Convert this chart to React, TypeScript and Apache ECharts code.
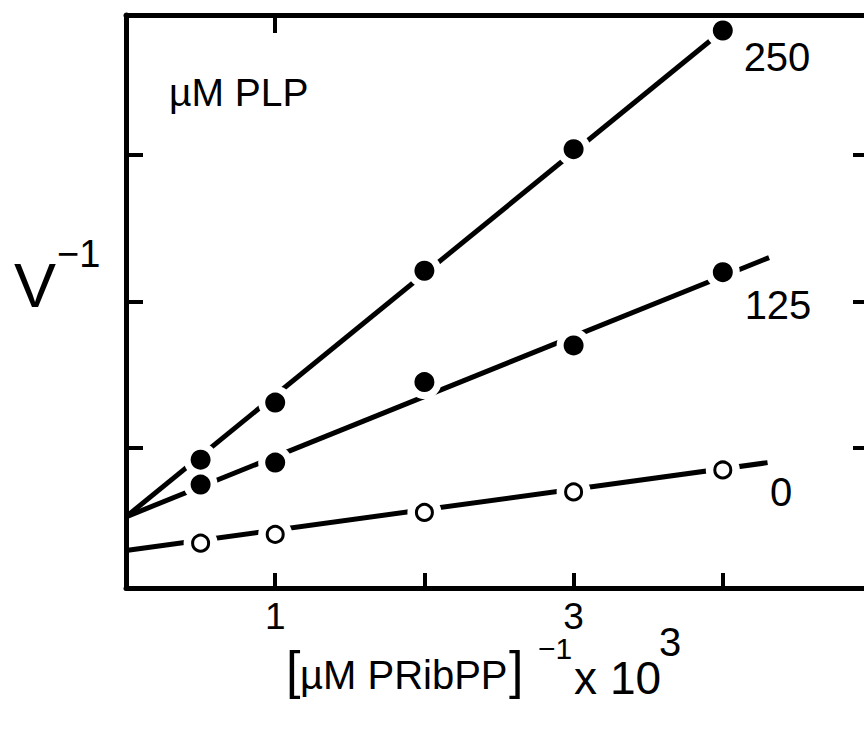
import React, { useEffect, useRef } from 'react';
import * as echarts from 'echarts';

// measured points: x = [µM PRibPP]^-1 x 10^3, y = V^-1 (tick units)
const xPoints = [0.5, 1, 2, 3, 4];
const plp250 = [0.92, 1.31, 2.21, 3.04, 3.85];
const plp125 = [0.75, 0.9, 1.45, 1.7, 2.2];
const plp0 = [0.35, 0.41, 0.56, 0.7, 0.85];

// fitted lines (start, end)
const fit250 = [[0, 0.53], [4, 3.85]];
const fit125 = [[0, 0.53], [4.31, 2.3]];
const fit0 = [[0, 0.3], [4.3, 0.9]];

const xTickValues = [1, 2, 3, 4];
const xLabelValues = [1, 3];
const topTickValues = [1];
const yTickValues = [1, 2, 3];
const seriesNames = ['250', '125', '0'];

const FONT = '"Liberation Sans", Arial, sans-serif';

export default function App() {
  const ref = useRef<HTMLDivElement>(null);
  useEffect(() => {
    document.body.style.margin = '0';
    document.body.style.overflow = 'hidden';
    const chart = echarts.init(ref.current!, null, { renderer: 'svg' });
    const pts = (ys: number[]) => xPoints.map((x, i) => [x, ys[i]]);
    const axisLine = { show: true, onZero: false, lineStyle: { color: '#000', width: 5 } };
    const tick = (vals: number[], len: number) => ({
      show: true,
      inside: true,
      length: len,
      customValues: vals,
      lineStyle: { color: '#000', width: 4 },
    });
    const xBase = { type: 'value', min: 0, max: 5, splitLine: { show: false }, z: 10 };
    const yBase = { type: 'value', min: 0.044, max: 3.956, splitLine: { show: false }, z: 10, axisLabel: { show: false } };
    const lineSeries = (data: number[][]) => ({
      type: 'line',
      data,
      symbol: 'none',
      z: 2,
      lineStyle: { color: '#000', width: 5 },
      silent: true,
    });
    const halo = (ys: number[]) => ({
      type: 'scatter',
      data: pts(ys),
      symbolSize: 34,
      itemStyle: { color: '#fff', opacity: 1 },
      z: 3,
      silent: true,
    });
    const filled = (ys: number[], name: string) => ({
      type: 'scatter',
      name,
      data: pts(ys),
      symbolSize: 20,
      itemStyle: { color: '#000', opacity: 1 },
      z: 4,
    });
    const open = (ys: number[], name: string) => ({
      type: 'scatter',
      name,
      data: pts(ys),
      symbolSize: 16,
      itemStyle: { color: '#fff', borderColor: '#000', borderWidth: 3, opacity: 1 },
      z: 4,
    });
    const txt = (text: string, x: number, y: number, fontSize: number, align = 'left') => ({
      type: 'text',
      x,
      y,
      z: 20,
      style: { text, fontSize, fontFamily: FONT, fill: '#000', align, verticalAlign: 'middle' },
    });

    chart.setOption({
      animation: false,
      backgroundColor: '#fff',
      grid: { left: 126, right: 0, top: 15, bottom: 146, containLabel: false },
      xAxis: [
        {
          ...xBase,
          position: 'bottom',
          axisLine,
          axisTick: tick(xTickValues, 15),
          axisLabel: {
            show: true,
            customValues: xLabelValues,
            margin: 10,
            fontSize: 37,
            fontFamily: FONT,
            color: '#000',
          },
        },
        {
          ...xBase,
          position: 'top',
          axisLine,
          axisTick: tick(topTickValues, 18),
          axisLabel: { show: false },
        },
      ],
      yAxis: [
        { ...yBase, position: 'left', axisLine, axisTick: tick(yTickValues, 17) },
        { ...yBase, position: 'right', axisLine, axisTick: tick(yTickValues, 19) },
      ],
      series: [
        lineSeries(fit250),
        lineSeries(fit125),
        lineSeries(fit0),
        halo(plp250),
        halo(plp125),
        halo(plp0),
        filled(plp250, seriesNames[0]),
        filled(plp125, seriesNames[1]),
        open(plp0, seriesNames[2]),
      ],
      graphic: [
        txt(seriesNames[0], 777, 57, 40, 'center'),
        txt(seriesNames[1], 778, 305, 40, 'center'),
        txt(seriesNames[2], 781, 492, 40, 'center'),
        txt('µM PLP', 169, 92, 39),
        txt('V', 14, 285, 63),
        txt('−1', 57, 254, 38),
        txt('[', 286, 670, 52),
        txt('µM PRibPP', 300, 675, 40),
        txt(']', 509, 670, 52),
        txt('−1', 538, 648, 30),
        txt('x', 574, 678, 46),
        txt('10', 610, 678, 46),
        txt('3', 659, 642, 40),
      ],
    });
    return () => chart.dispose();
  }, []);
  return <div ref={ref} style={{ position: 'absolute', left: 0, top: 0, width: 872, height: 734 }} />;
}
